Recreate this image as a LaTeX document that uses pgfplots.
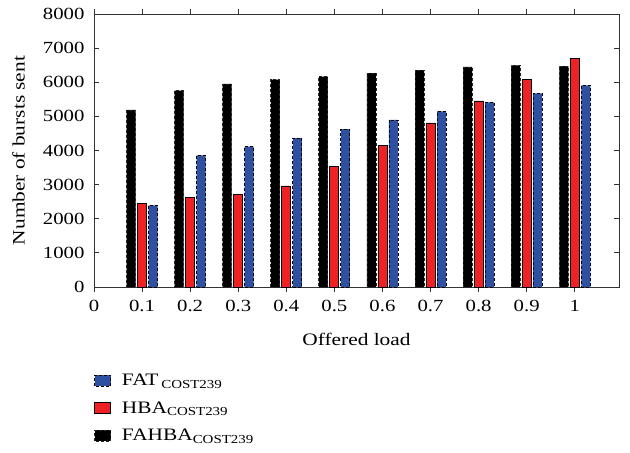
\documentclass[border=0pt]{standalone}
\usepackage{pgfplots}
\pgfplotsset{compat=1.18}
\usepackage{fontspec}
\setmainfont[FakeStretch=1.22]{Liberation Serif}
\definecolor{myblue}{RGB}{47,79,160}
\definecolor{myred}{RGB}{238,34,36}
\begin{document}
\begin{tikzpicture}
\path[use as bounding box] (-94pt,-166pt) rectangle (536pt,287pt);
\begin{axis}[
  scale only axis, width=525pt, height=273pt,
  xmin=0, xmax=1.092, ymin=0, ymax=8000,
  xtick={0,0.1,0.2,0.3,0.4,0.5,0.6,0.7,0.8,0.9,1},
  ytick={0,1000,2000,3000,4000,5000,6000,7000,8000},
  xticklabels={0,0.1,0.2,0.3,0.4,0.5,0.6,0.7,0.8,0.9,1},
  scaled y ticks=false,
  yticklabel style={/pgf/number format/fixed,/pgf/number format/1000 sep={}},
  /pgf/number format/assume math mode=true,
  tick align=inside, major tick length=5pt,
  axis line style={line width=0.9pt, black!80},
  every tick/.style={black!80, line width=0.8pt},
  font=\fontsize{17.5}{20}\selectfont,
  tick label style={font=\fontsize{17}{20}\selectfont},
  x tick label style={yshift=-5pt},
  y tick label style={xshift=-6pt},
  every axis x label/.style={at={(axis description cs:0.5,0)},anchor=center,yshift=-52pt},
  every axis y label/.style={at={(axis description cs:-0.1438,0.5)},rotate=90,anchor=center},
  xlabel={Offered load},
  ylabel={Number of bursts sent},
  ybar, bar width=9pt,
  legend style={at={(axis description cs:0,0)}, anchor=north west, yshift=-85pt,
    draw=none, fill=none, inner sep=0pt, row sep=10.5pt,
    font=\fontsize{17.5}{20}\selectfont, cells={anchor=west}},
  legend image code/.code={\draw[#1] (0pt,-5.5pt) rectangle (16pt,5.5pt);},
  reverse legend,
]
\addplot[bar shift=-11pt, fill=black, draw=black!85, dash pattern=on 3pt off 2pt, line width=0.8pt]
 coordinates {(0.1,5187) (0.2,5753) (0.3,5949) (0.4,6075) (0.5,6163) (0.6,6271) (0.7,6359) (0.8,6447) (0.9,6496) (1,6476)};
\addlegendentry{\hspace*{9pt}FAHBA\textsubscript{COST239}}
\addplot[bar shift=0pt, fill=myred, draw=black, line width=0.8pt]
 coordinates {(0.1,2461) (0.2,2637) (0.3,2705) (0.4,2960) (0.5,3526) (0.6,4152) (0.7,4806) (0.8,5451) (0.9,6086) (1,6701)};
\addlegendentry{\hspace*{9pt}HBA\textsubscript{COST239}}
\addplot[bar shift=11pt, fill=myblue, draw=black, dash pattern=on 3pt off 2pt, line width=0.8pt]
 coordinates {(0.1,2393) (0.2,3859) (0.3,4112) (0.4,4366) (0.5,4630) (0.6,4894) (0.7,5148) (0.8,5412) (0.9,5675) (1,5910)};
\addlegendentry{\hspace*{9pt}FAT\,\textsubscript{COST239}}
\end{axis}
\end{tikzpicture}
\end{document}
